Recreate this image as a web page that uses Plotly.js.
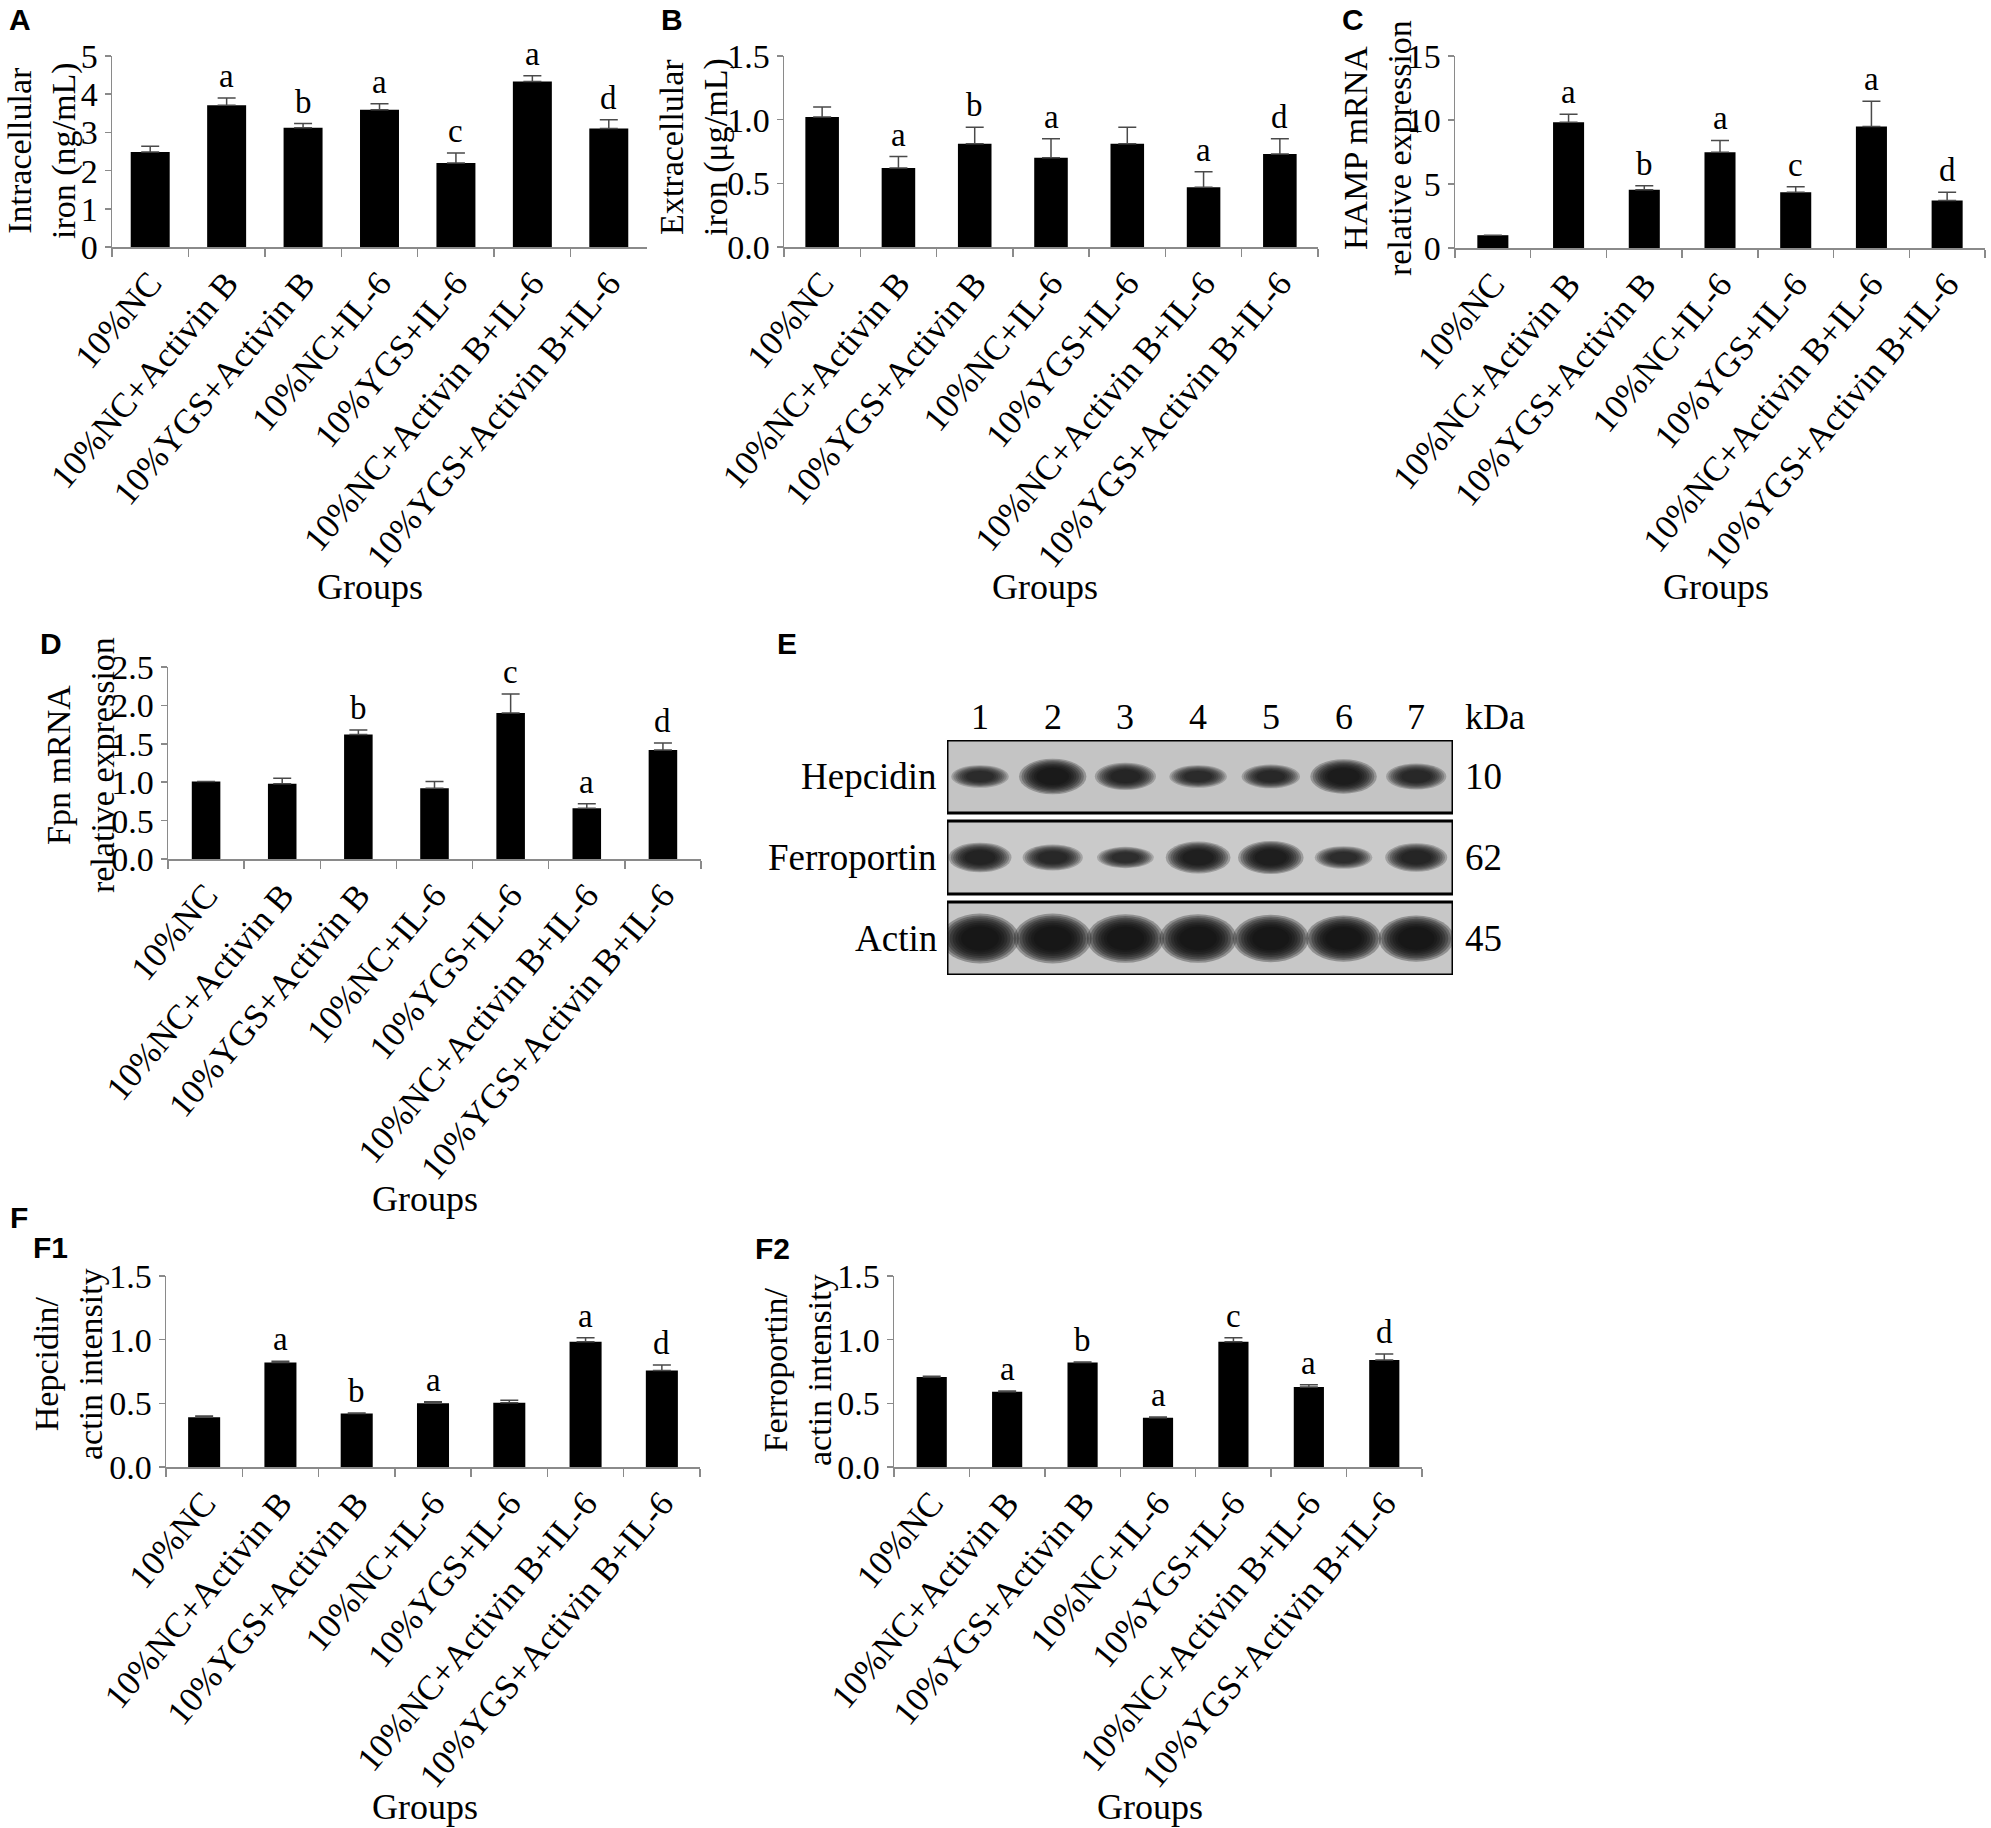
<!DOCTYPE html>
<html><head><meta charset="utf-8">
<script src="https://cdn.plot.ly/plotly-3.0.1.min.js"></script>
<style>html,body{margin:0;padding:0;background:#fff}#chart{width:1991px;height:1828px}</style>
</head><body><div id="chart"></div>
<script>
// ---------- data ----------
const groups = ["10%NC","10%NC+Activin B","10%YGS+Activin B","10%NC+IL-6","10%YGS+IL-6","10%NC+Activin B+IL-6","10%YGS+Activin B+IL-6"];

const intraIron    = [2.49, 3.71, 3.12, 3.59, 2.20, 4.33, 3.10];
const intraIronErr = [0.15, 0.19, 0.11, 0.16, 0.26, 0.15, 0.23];
const intraIronSig = ["", "a", "b", "a", "c", "a", "d"];

const extraIron    = [1.02, 0.62, 0.81, 0.70, 0.81, 0.47, 0.73];
const extraIronErr = [0.08, 0.09, 0.13, 0.15, 0.13, 0.12, 0.12];
const extraIronSig = ["", "a", "b", "a", "", "a", "d"];

const hampMrna    = [1.00, 9.82, 4.55, 7.49, 4.35, 9.50, 3.72];
const hampMrnaErr = [0.00, 0.63, 0.32, 0.91, 0.44, 1.97, 0.63];
const hampMrnaSig = ["", "a", "b", "a", "c", "a", "d"];

const fpnMrna    = [1.01, 0.98, 1.62, 0.92, 1.90, 0.66, 1.42];
const fpnMrnaErr = [0.00, 0.07, 0.06, 0.09, 0.25, 0.06, 0.09];
const fpnMrnaSig = ["", "", "b", "", "c", "a", "d"];

const hepActin    = [0.39, 0.82, 0.42, 0.50, 0.505, 0.984, 0.757];
const hepActinErr = [0.01, 0.01, 0.005, 0.012, 0.02, 0.032, 0.045];
const hepActinSig = ["", "a", "b", "a", "", "a", "d"];

const fpnActin    = [0.707, 0.59, 0.82, 0.387, 0.984, 0.628, 0.84];
const fpnActinErr = [0.005, 0.006, 0.005, 0.006, 0.032, 0.018, 0.047];
const fpnActinSig = ["", "a", "b", "a", "c", "a", "d"];

// western blot (lane numbers, proteins, kDa, relative band strength)
const lanes = [1, 2, 3, 4, 5, 6, 7];
const blotProteins = ["Hepcidin", "Ferroportin", "Actin"];
const blotKDa = ["10", "62", "45"];
const hepcidinBand    = [0.45, 1.00, 0.65, 0.45, 0.50, 0.95, 0.60];
const ferroportinBand = [0.75, 0.60, 0.40, 0.85, 0.90, 0.45, 0.70];
const actinBand       = [1.60, 1.60, 1.55, 1.55, 1.50, 1.45, 1.45];

// ---------- layout helpers ----------
const W = 1991, H = 1828;
const X = p => p / W, Y = p => 1 - p / H;
const SERIF = "Liberation Serif, Times New Roman, serif";
const SANS = "Liberation Sans, Arial, sans-serif";
const AX = '#8a8a8a';

const panels = [
  {id:'', vals:intraIron, err:intraIronErr, sig:intraIronSig, x0:112, x1:647, yt:56, yb:247, range:[0,5], dtick:1, fmt:'d', bw:0.51,
   title:'Intracellular<br>iron (ng/mL)', tx:42, ty:151, gx:370, gy:587},
  {id:'2', vals:extraIron, err:extraIronErr, sig:extraIronSig, x0:784, x1:1318, yt:56, yb:247, range:[0,1.5], dtick:0.5, fmt:'.1f', bw:0.44,
   title:'Extracellular<br>iron (μg/mL)', tx:694, ty:147, gx:1045, gy:587},
  {id:'3', vals:hampMrna, err:hampMrnaErr, sig:hampMrnaSig, x0:1455, x1:1985, yt:56, yb:248, range:[0,15], dtick:5, fmt:'d', bw:0.41,
   title:'HAMP mRNA<br>relative expression', tx:1377, ty:148, gx:1716, gy:587},
  {id:'4', vals:fpnMrna, err:fpnMrnaErr, sig:fpnMrnaSig, x0:168, x1:701, yt:667, yb:859, range:[0,2.5], dtick:0.5, fmt:'.1f', bw:0.375,
   title:'Fpn mRNA<br>relative expression', tx:80, ty:765, gx:425, gy:1199},
  {id:'5', vals:hepActin, err:hepActinErr, sig:hepActinSig, x0:166, x1:700, yt:1276, yb:1467, range:[0,1.5], dtick:0.5, fmt:'.1f', bw:0.42,
   title:'Hepcidin/<br>actin intensity', tx:68, ty:1364, gx:425, gy:1807},
  {id:'6', vals:fpnActin, err:fpnActinErr, sig:fpnActinSig, x0:894, x1:1422, yt:1276, yb:1467, range:[0,1.5], dtick:0.5, fmt:'.1f', bw:0.4,
   title:'Ferroportin/<br>actin intensity', tx:797, ty:1370, gx:1150, gy:1807}
];

const data = [], annotations = [], shapes = [];
const layout = {
  width: W, height: H, margin:{l:0,r:0,t:0,b:0}, showlegend:false,
  paper_bgcolor:'#fff', plot_bgcolor:'rgba(0,0,0,0)', font:{family:SERIF, color:'#000', size:30}
};

panels.forEach(p => {
  const xa = 'x' + p.id, ya = 'y' + p.id;
  data.push({
    type:'bar', x:groups, y:p.vals, xaxis:xa, yaxis:ya, width:p.bw,
    marker:{color:'#000', line:{width:0}},
    error_y:{type:'data', symmetric:false, array:p.err, arrayminus:p.vals.map(()=>0), color:'#4a4a4a', thickness:1.5, width:9},
    hoverinfo:'skip'
  });
  layout['xaxis' + p.id] = {
    domain:[X(p.x0), X(p.x1)], anchor:ya, type:'category', range:[-0.5, 6.5],
    tickson:'boundaries', ticks:'outside', ticklen:8, tickwidth:1.5, tickcolor:AX,
    showline:true, linecolor:AX, linewidth:1.5, showgrid:false, zeroline:false,
    tickangle:-50, tickfont:{family:SERIF, size:35, color:'#000'}, fixedrange:true
  };
  layout['yaxis' + p.id] = {
    domain:[Y(p.yb), Y(p.yt)], anchor:xa, range:p.range, dtick:p.dtick, tick0:0, tickformat:p.fmt,
    ticks:'outside', ticklen:6, tickwidth:1.5, tickcolor:AX,
    showline:true, linecolor:AX, linewidth:1.5, showgrid:false, zeroline:false,
    tickfont:{family:SERIF, size:34, color:'#000'}, fixedrange:true
  };
  p.sig.forEach((s, i) => {
    if (!s) return;
    annotations.push({xref:xa, yref:ya, x:groups[i], y:p.vals[i] + p.err[i], text:s, showarrow:false,
      yanchor:'bottom', yshift:2, font:{family:SERIF, size:33, color:'#000'}});
  });
  annotations.push({xref:'paper', yref:'paper', x:X(p.tx), y:Y(p.ty), text:p.title, textangle:-90, showarrow:false,
    xanchor:'center', yanchor:'middle', borderpad:0, font:{family:SERIF, size:34, color:'#000'}});
  annotations.push({xref:'paper', yref:'paper', x:X(p.gx), y:Y(p.gy), text:'Groups', showarrow:false,
    xanchor:'center', yanchor:'middle', font:{family:SERIF, size:36, color:'#000'}});
});

// panel letters
[['A',8,20],['B',660,20],['C',1341,20],['D',39,643],['E',776,643],['F',9,1217],['F1',32,1247],['F2',754,1248]].forEach(l => {
  annotations.push({xref:'paper', yref:'paper', x:X(l[1]), y:Y(l[2]), text:'<b>'+l[0]+'</b>', showarrow:false,
    xanchor:'left', yanchor:'middle', borderpad:0, font:{family:SANS, size:30, color:'#000'}});
});

// ---------- western blot (panel E) ----------
layout.xaxis7 = {domain:[X(947), X(1453)], anchor:'y7', range:[0.546, 7.506], visible:false, fixedrange:true};
layout.yaxis7 = {domain:[Y(975), Y(740)], anchor:'x7', range:[-0.45, 2.45], visible:false, fixedrange:true};
data.push({type:'scatter', x:[lanes[0]], y:[0], xaxis:'x7', yaxis:'y7', mode:'markers', marker:{opacity:0}, hoverinfo:'skip'});

const bandSets = [hepcidinBand, ferroportinBand, actinBand];
const boxFill = ['#c4c4c4', '#cacaca', '#c7c7c7'];
bandSets.forEach((bands, r) => {
  const row = 2 - r;
  shapes.push({type:'rect', xref:'x7', yref:'y7', x0:0.546, x1:7.506, y0:row-0.45, y1:row+0.45,
    fillcolor:boxFill[r], line:{color:'#000', width:3}, layer:'below'});
  bands.forEach((s, i) => {
    const hw = 0.28 + 0.1 * s, hh = 0.06 + 0.12 * s;
    const a = 0.14 + 0.12 * Math.min(s, 1.3);
    for (let k = 0; k < 8; k++) {
      const sc = 1.22 - k * 0.09;
      shapes.push({type:'circle', xref:'x7', yref:'y7',
        x0:lanes[i] - hw * sc, x1:lanes[i] + hw * sc,
        y0:row - Math.min(0.44, hh * sc), y1:row + Math.min(0.44, hh * sc),
        fillcolor:'rgba(12,12,12,' + a.toFixed(3) + ')', line:{width:0}, layer:'below'});
    }
  });
  annotations.push({xref:'paper', yref:'y7', x:X(939), y:row, text:blotProteins[r], showarrow:false,
    xanchor:'right', yanchor:'middle', font:{family:SERIF, size:37, color:'#000'}});
  annotations.push({xref:'paper', yref:'y7', x:X(1463), y:row, text:blotKDa[r], showarrow:false,
    xanchor:'left', yanchor:'middle', font:{family:SERIF, size:37, color:'#000'}});
});
lanes.forEach(n => {
  annotations.push({xref:'x7', yref:'paper', x:n, y:Y(717), text:String(n), showarrow:false,
    xanchor:'center', yanchor:'middle', font:{family:SERIF, size:36, color:'#000'}});
});
annotations.push({xref:'paper', yref:'paper', x:X(1463), y:Y(717), text:'kDa', showarrow:false,
  xanchor:'left', yanchor:'middle', font:{family:SERIF, size:36, color:'#000'}});

layout.annotations = annotations;
layout.shapes = shapes;
Plotly.newPlot('chart', data, layout, {staticPlot:true, displayModeBar:false});
</script></body></html>
